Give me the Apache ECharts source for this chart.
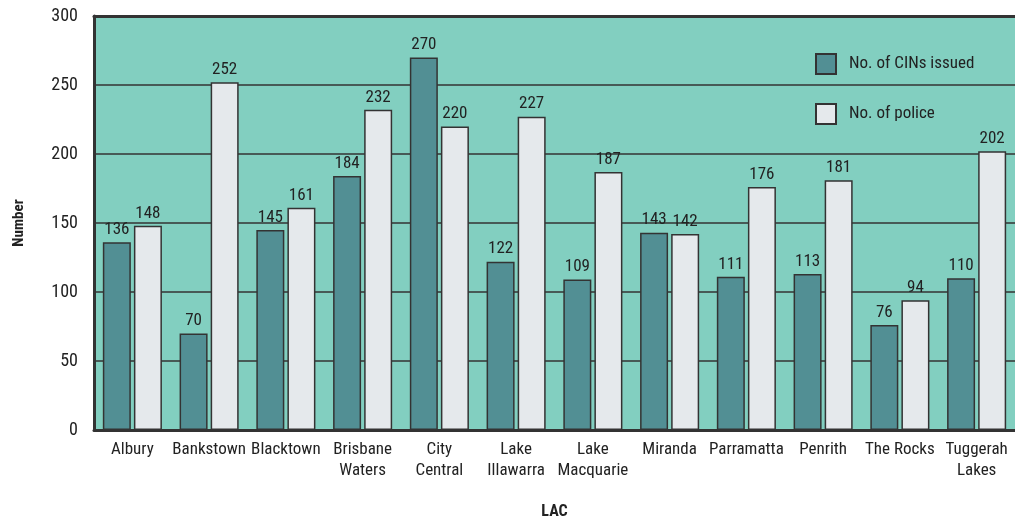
<!DOCTYPE html>
<html><head><meta charset="utf-8">
<script src="https://cdn.jsdelivr.net/npm/echarts@6/dist/echarts.min.js"></script>
<style>html,body{margin:0;padding:0;background:#fff}#c{width:1015px;height:518px}</style>
</head><body><div id="c"></div>
<script>
var categories = ['Albury','Bankstown','Blacktown','Brisbane\nWaters','City\nCentral','Lake\nIllawarra','Lake\nMacquarie','Miranda','Parramatta','Penrith','The Rocks','Tuggerah\nLakes'];
var cins = [136,70,145,184,270,122,109,143,111,113,76,110];
var police = [148,252,161,232,220,227,187,142,176,181,94,202];
var seriesNames = ['No. of CINs issued','No. of police'];
var font = '"Liberation Sans Narrow","Arial Narrow","Roboto Condensed",sans-serif';
var chart = echarts.init(document.getElementById('c'));
chart.setOption({
  animation:false,
  textStyle:{fontFamily:font},
  grid:{left:94,right:0,top:16,bottom:88,show:true,backgroundColor:'#82cfc0',borderWidth:0,containLabel:false,outerBoundsMode:'none'},
  legend:{orient:'vertical',left:810,top:48,itemWidth:20,itemHeight:20,itemGap:28,icon:'rect',
    textStyle:{fontFamily:font,fontSize:17,color:'#222',padding:[0,0,0,8]},
    data:seriesNames},
  xAxis:[{type:'category',data:categories,name:'LAC',nameLocation:'middle',nameGap:74,
    nameTextStyle:{fontFamily:font,fontWeight:'bold',fontSize:16,color:'#222'},
    axisLine:{lineStyle:{color:'#333',width:3}},
    axisTick:{inside:true,length:8,lineStyle:{color:'#333',width:2}},
    axisLabel:{fontFamily:font,fontSize:17,color:'#222',margin:9,lineHeight:21,interval:0}},
   {type:'category',data:categories,position:'top',
    axisLine:{show:true,lineStyle:{color:'#333',width:3}},
    axisTick:{show:false},axisLabel:{show:false},splitLine:{show:false}}],
  yAxis:{type:'value',min:0,max:300,interval:50,name:'Number',nameLocation:'middle',nameGap:67,
    nameTextStyle:{fontFamily:font,fontWeight:'bold',fontSize:15,color:'#222'},
    axisLine:{show:true,lineStyle:{color:'#333',width:3}},
    axisTick:{show:false},
    axisLabel:{fontFamily:font,fontSize:18,color:'#222',margin:16},
    splitLine:{lineStyle:{color:'#333',width:1.5}}},
  series:[
    {name:seriesNames[0],type:'bar',data:cins,barWidth:28,barGap:'11%',
     itemStyle:{color:'#528f94',borderColor:'#333',borderWidth:1.5},
     label:{show:true,position:'top',distance:4,fontFamily:font,fontSize:17,color:'#222'}},
    {name:seriesNames[1],type:'bar',data:police,barWidth:28,
     itemStyle:{color:'#e5e9ec',borderColor:'#333',borderWidth:1.5},
     label:{show:true,position:'top',distance:4,fontFamily:font,fontSize:17,color:'#222'}}
  ]
});
</script></body></html>
